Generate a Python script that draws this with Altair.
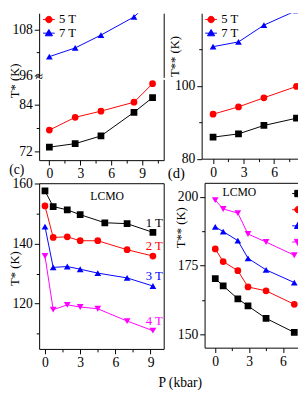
import altair as alt
import pandas as pd

FONT = "Liberation Serif"
W, H = 298, 388

COLORS = ["#000000", "#ff0000", "#0000ff", "#ff00ff"]
SHAPES = ["square", "circle", "triangle-up", "triangle-down"]
# legend symbols: a short line with the marker on it
LEG_PATHS = [
    "M-1,0H1M-0.55,-0.55H0.55V0.55H-0.55Z",
    "M-1,0H1M-0.55,0A0.55,0.55,0,1,1,0.55,0A0.55,0.55,0,1,1,-0.55,0Z",
    "M-1,0H1M0,-0.62L0.62,0.45L-0.62,0.45Z",
    "M-1,0H1M0,0.62L0.62,-0.45L-0.62,-0.45Z",
]
# the same symbols, cut at the right edge of the picture (panel d legend)
LEG_PATHS_CUT = [
    "M-1,0H0M-0.55,-0.55H0V0.55H-0.55Z",
    "M-1,0H0M0,-0.55A0.55,0.55,0,0,0,0,0.55Z",
    "M-1,0H0M-0.62,0.45L0,-0.62L0,0.45Z",
    "M-1,0H0M-0.62,-0.45L0,-0.45L0,0.62Z",
]

# ---------------- data ----------------
# panel (a): T* vs P
a_fields = ["3 T", "5 T", "7 T"]
a_P = [0, 2.5, 5.0, 8.2, 10.0]
a_black = [73.1, 74.0, 76.0, 82.1, 85.9]
a_red = [77.5, 80.8, 82.4, 84.7, 89.5]
a_blue = [100.9, 103.2, 106.6, 111.4, 116.0]

# panel (b): T** vs P
b_fields = ["3 T", "5 T", "7 T"]
b_P = [0, 2.5, 5.0, 8.2]
b_black = [85.9, 86.8, 89.1, 91.1]
b_red = [92.2, 94.2, 96.7, 99.8]
b_blue = [110.7, 112.0, 116.6, 120.6]

# panel (c): LCMO T* vs P
cd_fields = ["1 T", "2 T", "3 T", "4 T"]
c_P = [0, 0.7, 1.9, 3.0, 4.5, 7.0, 9.2]
c_P_black = [0, 0.7, 1.9, 3.0, 5.1, 7.0, 9.2]
c_black = [157.6, 152.4, 151.3, 149.7, 147.0, 146.7, 143.8]
c_red = [152.6, 142.1, 142.3, 141.0, 141.0, 138.0, 135.9]
c_blue = [145.7, 132.1, 132.4, 131.5, 130.2, 128.6, 125.9]
c_mag = [135.9, 118.0, 119.6, 118.9, 118.3, 114.2, 111.0]

# panel (d): LCMO T** vs P
d_P = [0, 0.7, 2.0, 2.9, 4.5, 7.0]
d_black = [170.3, 167.7, 163.0, 160.4, 155.9, 150.8]
d_red = [181.1, 176.5, 173.2, 167.3, 165.9, 161.0]
d_blue = [189.1, 187.4, 184.1, 177.7, 173.5, 168.9]
d_mag = [198.8, 195.6, 194.1, 186.5, 183.6, 178.8]

x_ticks_a = [0, 1.5, 3, 4.5, 6, 7.5, 9, 10.5]
x_ticks_b = [0, 1.5, 3, 4.5, 6, 7.5]
x_ticks_c = [0, 1.5, 3, 4.5, 6, 7.5, 9]
x_ticks_d = [0, 1.5, 3, 4.5, 6]


def long_df(p_lists, t_lists, names):
    rows = []
    for ps, ts, nm in zip(p_lists, t_lists, names):
        for p, t in zip(ps, ts):
            rows.append({"P": p, "T": t, "series": nm})
    return pd.DataFrame(rows)


def sc(domain, rng):
    return alt.Scale(domain=domain, range=rng, nice=False, zero=False)


def axis(orient, offset, values, major, title=None, titleX=0, titleY=0):
    kw = dict(
        orient=orient, offset=offset, values=values,
        domainColor="black", tickColor="black", labelColor="black",
        labelFont=FONT, labelFontSize=14, grid=False, domainWidth=1,
        tickWidth=1, labelPadding=2, labelFlush=False, labelOverlap=False,
        labelExpr=f"datum.value % {major} === 0 ? datum.label : ''",
        tickSize={"condition": {"test": f"datum.value % {major} === 0", "value": 5}, "value": 3},
    )
    if title:
        kw.update(title=title, titleX=titleX, titleY=titleY, titleAngle=270,
                  titleBaseline="bottom", titleAlign="center", titleFont=FONT,
                  titleFontSize=13, titleFontWeight="normal", titleColor="black")
    else:
        kw["title"] = None
    return alt.Axis(**kw)


def frame(orient, offset):
    return alt.Axis(orient=orient, offset=offset, labels=False, ticks=False,
                    title=None, grid=False, domainColor="black", domainWidth=1)


def cscale(names, colors):
    return alt.Scale(domain=names, range=colors)


def line_layer(df, names, colors, xs, ys, xa=None, ya=None):
    return alt.Chart(df).mark_line(strokeWidth=1, clip=True).encode(
        x=alt.X("P:Q", scale=xs, axis=xa),
        y=alt.Y("T:Q", scale=ys, axis=ya),
        color=alt.Color("series:N", scale=cscale(names, colors), legend=None),
    )


def point_layer(df, names, colors, shapes, xs, ys, xa=None, ya=None):
    return alt.Chart(df).mark_point(filled=True, size=48, opacity=1, clip=True).encode(
        x=alt.X("P:Q", scale=xs, axis=xa),
        y=alt.Y("T:Q", scale=ys, axis=ya),
        color=alt.Color("series:N", scale=cscale(names, colors), legend=None),
        shape=alt.Shape("series:N", scale=alt.Scale(domain=names, range=shapes), legend=None),
    )


def legend_layer(df, names, colors, paths, xs, ys, lx, ly, row_pad, show_labels=True):
    kw = dict(orient="none", legendX=lx, legendY=ly, title=None,
              labelFont=FONT, labelFontSize=13, labelColor="black",
              symbolSize=144, symbolStrokeWidth=1, padding=0,
              rowPadding=row_pad, labelOffset=4, symbolOpacity=1)
    if not show_labels:
        kw.update(labelExpr="''", labelOffset={"expr": "-12"})
    leg = alt.Legend(**kw)
    return alt.Chart(df).transform_filter("false").mark_point(filled=True).encode(
        x=alt.X("P:Q", scale=xs, axis=None),
        y=alt.Y("T:Q", scale=ys, axis=None),
        fill=alt.Fill("series:N", scale=alt.Scale(domain=names, range=colors), legend=leg),
        stroke=alt.Stroke("series:N", scale=alt.Scale(domain=names, range=colors), legend=leg),
        shape=alt.Shape("series:N", scale=alt.Scale(domain=names, range=paths), legend=leg),
    )


def label(text, x, y, size=14):
    return alt.Chart(pd.DataFrame({"t": [text]})).mark_text(
        font=FONT, fontSize=size, color="black", align="center", baseline="middle"
    ).encode(x=alt.value(x), y=alt.value(y), text="t:N")


layers = []

# ---------- panel (a) ----------
xa = sc([-0.99, 11.08], [32, 160])
ya_lo = sc([69.74, 90.6], [151, 68])
ya_hi = sc([95.41, 112.38], [66, 0])
df_a_lo = long_df([a_P, a_P], [a_black, a_red], a_fields[:2])
df_a_hi = long_df([a_P], [a_blue], a_fields[2:])
df_a = long_df([a_P] * 3, [a_black, a_red, a_blue], a_fields)
layers += [
    line_layer(df_a_lo, a_fields[:2], COLORS[:2], xa, ya_lo,
               axis("bottom", -237, x_ticks_a, 3),
               axis("left", -32, [72, 78, 84], 12, "T* (K)", -18, 69)),
    point_layer(df_a_lo, a_fields[:2], COLORS[:2], SHAPES[:2], xa, ya_lo, None, frame("right", -138)),
    line_layer(df_a_hi, a_fields[2:], COLORS[2:3], xa, ya_hi, None,
               axis("left", -32, [96, 102, 108], 12)),
    point_layer(df_a_hi, a_fields[2:], COLORS[2:3], SHAPES[2:3], xa, ya_hi, None, frame("right", -138)),
    legend_layer(df_a, a_fields[1:], COLORS[1:3], LEG_PATHS[1:3], xa, ya_lo, 35.5, 0, 0),
    label("≈", 32, 66, 14),
]

# ---------- panel (b) ----------
xb = sc([-1.12, 8.35], [199, 298])
yb = sc([80, 119.87], [149.5, 0])
df_b = long_df([b_P] * 3, [b_black, b_red, b_blue], b_fields)
layers += [
    line_layer(df_b, b_fields, COLORS[:3], xb, yb,
               axis("bottom", -238.5, x_ticks_b, 3),
               axis("left", -199, [80, 90, 100, 110], 20, "T** (K)", -21, 44)),
    point_layer(df_b, b_fields, COLORS[:3], SHAPES[:3], xb, yb),
    legend_layer(df_b, b_fields[1:], COLORS[1:3], LEG_PATHS[1:3], xb, yb, 202.2, 0, 0),
]

# ---------- panel (c) ----------
xc = sc([-0.498, 10.12], [32, 160])
yc = sc([104.9, 160.19], [345, 174.7])
df_c = long_df([c_P_black, c_P, c_P, c_P], [c_black, c_red, c_blue, c_mag], cd_fields)
df_c_last = pd.DataFrame({
    "P": [c_P_black[-1], c_P[-1], c_P[-1], c_P[-1]],
    "T": [c_black[-1], c_red[-1], c_blue[-1], c_mag[-1]],
    "series": cd_fields,
})
layers += [
    line_layer(df_c, cd_fields, COLORS, xc, yc,
               axis("bottom", -43, x_ticks_c, 3),
               axis("left", -32, [110, 120, 130, 140, 150, 160], 20, "T* (K)", -18, 262)),
    point_layer(df_c, cd_fields, COLORS, SHAPES, xc, yc, frame("top", -174.7), frame("right", -138)),
    alt.Chart(df_c_last).mark_text(font=FONT, fontSize=13, align="right", baseline="middle",
                                   dx=10, dy=-10).encode(
        x=alt.X("P:Q", scale=xc, axis=None),
        y=alt.Y("T:Q", scale=yc, axis=None),
        text="series:N",
        color=alt.Color("series:N", scale=cscale(cd_fields, COLORS), legend=None),
    ),
    alt.Chart(pd.DataFrame({"P": [5.3], "T": [156.0], "t": ["LCMO"]})).mark_text(
        font=FONT, fontSize=12, color="black").encode(
        x=alt.X("P:Q", scale=xc, axis=None), y=alt.Y("T:Q", scale=yc, axis=None), text="t:N"),
]

# ---------- panel (d) ----------
xd = sc([-0.948, 7.33], [202, 298])
yd = sc([145.27, 205.08], [343.7, 174.3])
df_d = long_df([d_P] * 4, [d_black, d_red, d_blue, d_mag], cd_fields)
layers += [
    line_layer(df_d, cd_fields, COLORS, xd, yd,
               axis("bottom", -44.3, x_ticks_d, 3),
               axis("left", -202, [150, 162.5, 175, 187.5, 200], 25, "T** (K)", -18, 220)),
    point_layer(df_d, cd_fields, COLORS, SHAPES, xd, yd, frame("top", -174.3), None),
    legend_layer(df_d, cd_fields, COLORS, LEG_PATHS_CUT, xd, yd, 291.5, 178.8, 2.6, show_labels=False),
    alt.Chart(pd.DataFrame({"P": [2.14], "T": [201.6], "t": ["LCMO"]})).mark_text(
        font=FONT, fontSize=12, color="black").encode(
        x=alt.X("P:Q", scale=xd, axis=None), y=alt.Y("T:Q", scale=yd, axis=None), text="t:N"),
]

# ---------- labels ----------
layers += [
    label("(c)", 9, 161, 14),
    label("(d)", 173, 164, 15),
    label("P (kbar)", 177, 380, 14),
]

chart = alt.layer(*layers).properties(
    width=W, height=H, padding=0,
    autosize=alt.AutoSizeParams(type="none"),
).resolve_scale(
    x="independent", y="independent", color="independent",
    fill="independent", stroke="independent", shape="independent",
).configure_view(strokeWidth=0)

chart.save("out.html", embed_options={"renderer": "svg", "actions": False})
